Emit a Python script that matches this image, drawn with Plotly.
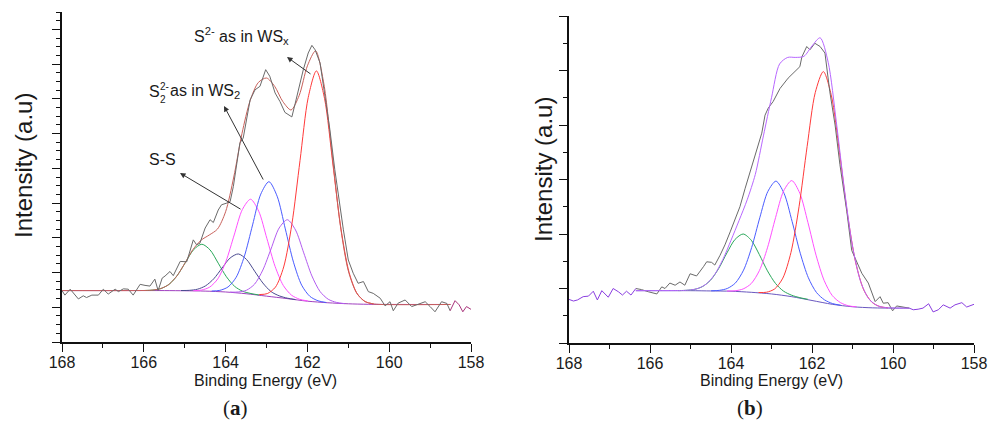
import plotly.graph_objects as go

# ---------------- panel (a) data ----------------
be_a_raw = [168.0, 167.93, 167.80, 167.60, 167.48, 167.40, 167.27, 167.11, 166.99, 166.87, 166.70, 166.62,
            166.50, 166.38, 166.26, 166.09, 165.97, 165.85, 165.73, 165.65, 165.55, 165.48, 165.36, 165.28,
            165.11, 164.95, 164.79, 164.71, 164.63, 164.50, 164.38, 164.30, 164.18, 164.10, 163.97, 163.89,
            163.81, 163.73, 163.65, 163.57, 163.48, 163.40, 163.28, 163.16, 163.02, 162.92, 162.79, 162.67,
            162.55, 162.38, 162.30, 162.18, 162.10, 161.98, 161.89, 161.81, 161.69, 161.57, 161.45, 161.33,
            161.21, 161.12, 161.08, 161.00, 160.88, 160.76, 160.63, 160.51, 160.39, 160.22, 160.10, 159.98,
            159.90, 159.78, 159.61, 159.45, 159.33, 159.12, 159.00, 158.88, 158.72, 158.59, 158.51]
int_a_raw = [1.48, 1.35, 1.52, 1.24, 1.33, 1.28, 1.35, 1.35, 1.52, 1.38, 1.52, 1.45,
             1.53, 1.52, 1.35, 1.66, 1.63, 1.61, 1.81, 1.48, 1.84, 1.90, 2.03, 1.91,
             2.32, 2.31, 2.94, 2.80, 2.84, 3.28, 3.52, 3.44, 3.80, 3.95, 4.00, 4.04,
             4.48, 5.15, 5.73, 5.87, 6.40, 6.97, 7.26, 7.36, 7.84, 7.65, 7.17, 6.92,
             6.61, 6.48, 6.86, 7.46, 7.84, 8.32, 8.54, 8.41, 8.03, 7.07, 6.11, 4.96,
             3.90, 3.23, 2.94, 2.36, 1.98, 1.69, 1.74, 1.45, 1.40, 1.26, 1.04, 1.16,
             0.90, 1.12, 1.21, 1.02, 1.07, 1.16, 1.02, 0.87, 1.16, 1.11, 0.90]
be_a_tail = [158.51, 158.39, 158.29, 158.20, 158.11, 158.0]
int_a_tail = [0.90, 1.19, 1.07, 0.87, 1.02, 0.94]

be_a_base = [168.0, 165.5, 165.0, 164.5, 164.0, 163.5, 163.0, 162.5, 162.0, 161.5, 161.0, 160.5, 158.5]
int_a_base = [1.48, 1.48, 1.475, 1.465, 1.44, 1.39, 1.32, 1.25, 1.175, 1.13, 1.10, 1.085, 1.08]

be_a_env = [168.0, 166.0, 165.8, 165.6, 165.4, 165.2, 165.0, 164.8, 164.6, 164.4, 164.2, 164.0, 163.8,
            163.6, 163.4, 163.2, 163.0, 162.8, 162.6, 162.4, 162.2, 162.0, 161.8, 161.6, 161.4, 161.2,
            161.0, 160.8, 160.6, 160.4, 160.2, 158.5]
int_a_env = [1.48, 1.483, 1.493, 1.533, 1.645, 1.887, 2.259, 2.66, 2.93, 3.08, 3.25, 3.75, 4.75,
             6.0, 6.95, 7.47, 7.60, 7.36, 6.92, 6.68, 7.10, 7.95, 8.38, 7.45, 5.45, 3.40,
             2.05, 1.42, 1.17, 1.10, 1.08, 1.08]

be_a_green = [165.98, 165.78, 165.58, 165.38, 165.18, 164.98, 164.78, 164.58, 164.38, 164.18, 163.98, 163.78, 163.58, 163.38, 163.18]
int_a_green = [1.483, 1.495, 1.539, 1.663, 1.918, 2.294, 2.661, 2.815, 2.651, 2.269, 1.878, 1.603, 1.459, 1.395, 1.353]

be_a_navy = [165.09, 164.89, 164.69, 164.49, 164.29, 164.09, 163.89, 163.69, 163.49, 163.29, 163.09, 162.89, 162.69, 162.49, 162.29]
int_a_navy = [1.482, 1.487, 1.519, 1.617, 1.819, 2.124, 2.418, 2.535, 2.378, 2.039, 1.699, 1.452, 1.329, 1.262, 1.222]

be_a_magenta = [164.79, 164.59, 164.39, 164.19, 163.99, 163.79, 163.59, 163.39, 163.19, 162.99, 162.79, 162.59, 162.39, 162.19, 161.99]
int_a_magenta = [1.476, 1.495, 1.580, 1.819, 2.326, 3.081, 3.814, 4.110, 3.764, 2.976, 2.176, 1.629, 1.350, 1.230, 1.181]

be_a_blue = [164.34, 164.14, 163.94, 163.74, 163.54, 163.34, 163.14, 162.94, 162.74, 162.54, 162.34, 162.14, 161.94, 161.74, 161.54]
int_a_blue = [1.467, 1.487, 1.585, 1.866, 2.472, 3.371, 4.257, 4.615, 4.197, 3.256, 2.297, 1.636, 1.315, 1.187, 1.137]

be_a_violet = [163.89, 163.69, 163.49, 163.29, 163.09, 162.89, 162.69, 162.49, 162.29, 162.09, 161.89, 161.69, 161.49, 161.29, 161.09]
int_a_violet = [1.435, 1.440, 1.490, 1.667, 2.072, 2.677, 3.283, 3.520, 3.223, 2.567, 1.902, 1.452, 1.230, 1.140, 1.105]

be_a_red = [163.18, 162.98, 162.78, 162.58, 162.38, 162.18, 161.98, 161.78, 161.58, 161.38, 161.18, 160.98, 160.78, 160.58, 160.38]
int_a_red = [1.365, 1.394, 1.582, 2.160, 3.389, 5.228, 7.039, 7.805, 7.004, 5.153, 3.264, 2.000, 1.382, 1.159, 1.095]

# ---------------- panel (b) data ----------------
be_b_head = [168.0, 167.89, 167.79, 167.65, 167.52, 167.40, 167.30, 167.19, 167.03, 166.91, 166.78, 166.68, 166.58, 166.47, 166.35]
int_b_head = [0.80, 0.77, 0.79, 0.85, 0.86, 0.95, 0.79, 0.96, 0.84, 1.00, 0.94, 0.88, 0.95, 0.88, 1.00]

be_b_raw = [166.35, 166.21, 166.04, 165.83, 165.71, 165.63, 165.51, 165.38, 165.26, 165.14, 165.01, 164.85,
            164.68, 164.60, 164.48, 164.40, 164.27, 164.15, 164.02, 163.90, 163.78, 163.65, 163.53, 163.41,
            163.24, 163.16, 163.08, 162.96, 162.79, 162.59, 162.42, 162.30, 162.25, 162.13, 162.05, 161.93,
            161.80, 161.68, 161.56, 161.43, 161.31, 161.14, 161.02, 160.90, 160.77, 160.61, 160.44, 160.32,
            160.24, 160.12, 160.01, 159.91, 159.75, 159.60]
int_b_raw = [1.00, 0.98, 0.94, 0.90, 1.03, 1.00, 1.10, 1.06, 1.12, 1.06, 1.27, 1.23,
             1.40, 1.49, 1.48, 1.43, 1.61, 1.80, 2.04, 2.26, 2.50, 2.84, 3.14, 3.45,
             3.85, 4.18, 4.31, 4.43, 4.67, 4.86, 4.98, 5.07, 5.25, 5.44, 5.38, 5.50,
             5.44, 5.32, 4.61, 4.00, 3.27, 2.41, 1.70, 1.49, 1.28, 1.10, 0.76, 0.85,
             0.73, 0.74, 0.59, 0.68, 0.66, 0.64]

be_b_tail = [159.60, 159.50, 159.38, 159.26, 159.12, 159.01, 158.88, 158.76, 158.59, 158.47, 158.30, 158.18, 158.0]
int_b_tail = [0.64, 0.61, 0.62, 0.64, 0.72, 0.57, 0.61, 0.70, 0.64, 0.70, 0.74, 0.66, 0.71]

be_b_base = [166.35, 165.0, 164.5, 164.0, 163.5, 163.0, 162.5, 162.0, 161.5, 161.0, 160.5, 160.0, 159.6]
int_b_base = [0.96, 0.96, 0.955, 0.95, 0.93, 0.90, 0.85, 0.78, 0.71, 0.665, 0.645, 0.64, 0.64]

be_b_env = [166.35, 165.4, 165.2, 165.0, 164.8, 164.6, 164.4, 164.2, 164.0, 163.8, 163.6, 163.4, 163.2,
            163.0, 162.8, 162.6, 162.4, 162.2, 162.0, 161.8, 161.6, 161.4, 161.2, 161.0, 160.8, 160.6,
            160.4, 160.2, 160.0, 159.6]
int_b_env = [0.96, 0.961, 0.963, 0.973, 1.005, 1.088, 1.26, 1.534, 1.884, 2.249, 2.628, 3.093, 3.80,
             4.50, 5.12, 5.24, 5.24, 5.26, 5.45, 5.60, 5.15, 4.06, 2.82, 1.78, 1.13, 0.814,
             0.69, 0.651, 0.642, 0.64]

be_b_green = [165.30, 165.10, 164.90, 164.70, 164.50, 164.30, 164.10, 163.90, 163.70, 163.50, 163.30, 163.10, 162.90, 162.70, 162.50, 162.30, 162.10]
int_b_green = [0.961, 0.967, 0.984, 1.037, 1.157, 1.372, 1.653, 1.901, 2.000, 1.886, 1.622, 1.324, 1.092, 0.950, 0.876, 0.832, 0.801]

be_b_blue = [164.49, 164.29, 164.09, 163.89, 163.69, 163.49, 163.29, 163.09, 162.89, 162.69, 162.49, 162.29, 162.09, 161.89, 161.69, 161.49, 161.29]
int_b_blue = [0.958, 0.966, 1.001, 1.102, 1.337, 1.752, 2.297, 2.781, 2.970, 2.746, 2.227, 1.647, 1.197, 0.927, 0.791, 0.723, 0.693]

be_b_magenta = [164.10, 163.90, 163.70, 163.50, 163.30, 163.10, 162.90, 162.70, 162.50, 162.30, 162.10, 161.90, 161.70, 161.50, 161.30, 161.10, 160.90]
int_b_magenta = [0.954, 0.958, 0.992, 1.091, 1.327, 1.746, 2.300, 2.791, 2.980, 2.746, 2.210, 1.611, 1.147, 0.871, 0.742, 0.683, 0.663]

be_b_red = [163.32, 163.12, 162.92, 162.72, 162.52, 162.32, 162.12, 161.92, 161.72, 161.52, 161.32, 161.12, 160.92, 160.72, 160.52, 160.32, 160.12]
int_b_red = [0.926, 0.932, 0.993, 1.191, 1.660, 2.500, 3.607, 4.594, 4.980, 4.534, 3.497, 2.345, 1.470, 0.971, 0.748, 0.667, 0.646]

x_ticks = [168, 166, 164, 162, 160, 158]

# ---------------- figure ----------------
W, H = 989, 421
fig = go.Figure()


def line(x, y, color, axes, width=1.0, shape="spline"):
    xa, ya = axes
    fig.add_trace(go.Scatter(x=x, y=y, mode="lines", xaxis=xa, yaxis=ya,
                             line=dict(color=color, width=width, shape=shape, smoothing=0.8),
                             hoverinfo="skip"))


A = ("x", "y")
B = ("x2", "y2")

# panel a
line(be_a_base, int_a_base, "#a040c0", A)
line(be_a_green, int_a_green, "#2aa85a", A)
line(be_a_navy, int_a_navy, "#4b4b90", A)
line(be_a_magenta, int_a_magenta, "#ff50ff", A)
line(be_a_blue, int_a_blue, "#4a5cff", A)
line(be_a_violet, int_a_violet, "#b35cf0", A)
line(be_a_red, int_a_red, "#ff3a3a", A)
line(be_a_env, int_a_env, "#c8605a", A)
line(be_a_raw, int_a_raw, "#6a6a6a", A, shape="linear")
line(be_a_tail, int_a_tail, "#a8327a", A, shape="linear")

# panel b
line(be_b_base, int_b_base, "#6a58c0", B)
line(be_b_green, int_b_green, "#2aa85a", B)
line(be_b_blue, int_b_blue, "#4a5cff", B)
line(be_b_magenta, int_b_magenta, "#ff50ff", B)
line(be_b_red, int_b_red, "#ff3a3a", B)
line(be_b_raw, int_b_raw, "#6a6a6a", B, shape="linear")
line(be_b_env, int_b_env, "#b867ff", B)
line(be_b_head, int_b_head, "#8a3ee0", B, shape="linear")
line(be_b_tail, int_b_tail, "#8a3ee0", B, shape="linear")

tickfont = dict(family="Liberation Sans, Arial, sans-serif", size=16, color="#1a1a1a")


def xaxis(dom, anchor):
    return dict(domain=dom, range=[168, 158], tickvals=x_ticks, ticks="outside", ticklen=8,
                tickwidth=1.2, tickcolor="#111", showline=True, linecolor="#111", linewidth=1.5,
                showgrid=False, zeroline=False, tickfont=tickfont, automargin=False, anchor=anchor,
                ticklabelstandoff=-3,
                minor=dict(dtick=1, tick0=158, ticks="outside", ticklen=4, tickwidth=1.2, tickcolor="#111"))


def yaxis(dom, top, minor_step, anchor):
    return dict(domain=dom, range=[0, top], dtick=1, tick0=0, ticks="outside", ticklen=8,
                tickwidth=1.2, tickcolor="#111", showline=True, linecolor="#111", linewidth=1.5,
                showgrid=False, zeroline=False, showticklabels=False, anchor=anchor, automargin=False,
                minor=dict(dtick=minor_step, tick0=0, ticks="outside", ticklen=4, tickwidth=1.2, tickcolor="#111"))


def P(xp, yp):
    return xp / W, 1 - yp / H


anns = []


def text(xp, yp, s, size=16, xanchor="left", angle=0, family="Liberation Sans, Arial, sans-serif"):
    x, y = P(xp, yp)
    anns.append(dict(x=x, y=y, xref="paper", yref="paper", text=s, showarrow=False,
                     xanchor=xanchor, yanchor="middle", textangle=angle,
                     font=dict(family=family, size=size, color="#1a1a1a")))


def arrow(hx, hy, tx, ty):
    x, y = P(hx, hy)
    anns.append(dict(x=x, y=y, xref="paper", yref="paper", text="", showarrow=True,
                     ax=tx - hx, ay=ty - hy, arrowhead=2, arrowsize=1.1, arrowwidth=1,
                     arrowcolor="#333", standoff=0, startstandoff=0))


# labels panel a
text(192, 36, "S<sup>2-</sup> as in WS<sub>x</sub>")
text(147, 91, "S")
text(158, 86, "2-", size=10)
text(158, 99, "2", size=10)
text(168, 91, "as in WS<sub>2</sub>")
text(147, 160, "S-S")
arrow(287, 57, 312, 75)
arrow(224, 106, 264, 181)
arrow(180, 173, 242, 210)

# axis titles
text(265, 380, "Binding Energy (eV)", xanchor="center")
text(771, 380, "Binding Energy (eV)", xanchor="center")
text(23, 166, "Intensity (a.u)", size=24, xanchor="center", angle=-90)
text(543, 170, "Intensity (a.u)", size=24, xanchor="center", angle=-90)
text(235, 408, "(<b>a</b>)", size=21, xanchor="center", family="Liberation Serif, Times New Roman, serif")
text(750, 408, "(<b>b</b>)", size=21, xanchor="center", family="Liberation Serif, Times New Roman, serif")

fig.update_layout(
    width=W, height=H, margin=dict(l=0, r=0, t=0, b=0, autoexpand=False),
    template="none",
    paper_bgcolor="white", plot_bgcolor="white", showlegend=False,
    xaxis=xaxis([62 / W, 471 / W], "y"),
    yaxis=yaxis([(H - 342) / H, (H - 12) / H], 9.5, 0.25, "x"),
    xaxis2=xaxis([569 / W, 974 / W], "y2"),
    yaxis2=yaxis([(H - 343) / H, (H - 16) / H], 6.0, 0.5, "x2"),
    annotations=anns,
)

fig.write_html("out.html", config={"displayModeBar": False},
               post_script="document.body.style.margin='0';document.body.style.overflow='hidden';")
